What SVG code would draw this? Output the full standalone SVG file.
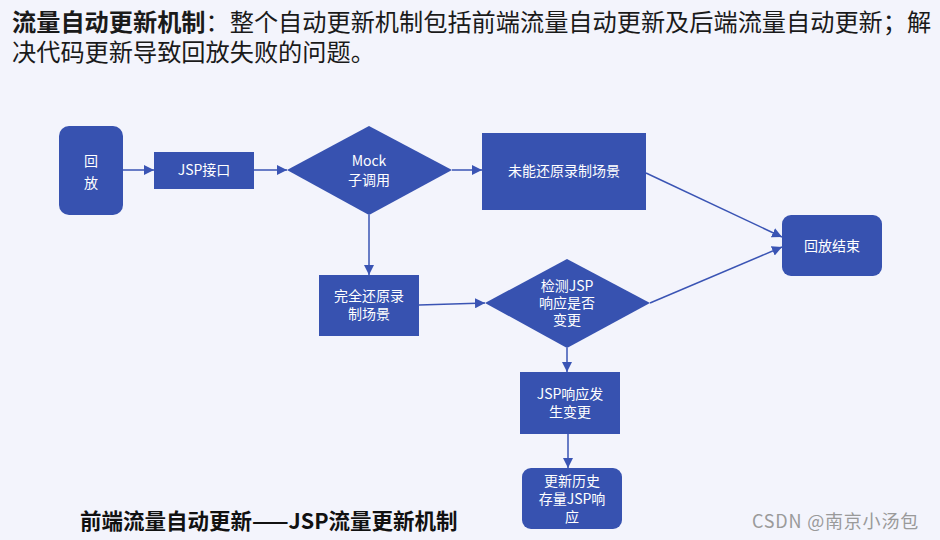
<svg xmlns="http://www.w3.org/2000/svg" width="940" height="540" viewBox="0 0 940 540">
<defs>
<marker id="ah" viewBox="0 0 10 10" refX="10" refY="5" markerWidth="10" markerHeight="10" markerUnits="userSpaceOnUse" orient="auto">
<path d="M0,0 L10,5 L0,10 z" fill="#3a54b4"/>
</marker>
<style>
.n{fill:#3752b0;}
.t{fill:#ffffff;font-family:"Noto Sans CJK SC","Noto Sans",sans-serif;font-size:14px;text-anchor:middle;}
.c{stroke:#3a54b4;stroke-width:1.5;fill:none;marker-end:url(#ah);}
.h{font-family:"Noto Sans CJK SC","Noto Sans",sans-serif;fill:#1a1a1a;}
</style>
</defs>
<rect width="940" height="540" fill="#f3f4fc"/>
<text class="h" x="12" y="31" font-size="24.2"><tspan font-weight="bold">流量自动更新机制</tspan>：整个自动更新机制包括前端流量自动更新及后端流量自动更新；解</text>
<text class="h" x="12" y="61" font-size="24.2">决代码更新导致回放失败的问题。</text>
<g id="connectors">
<line class="c" x1="123" y1="170" x2="154" y2="170"/>
<line class="c" x1="254" y1="170" x2="287" y2="170"/>
<line class="c" x1="452" y1="170" x2="482" y2="170"/>
<line class="c" x1="369" y1="215" x2="369" y2="275"/>
<line class="c" x1="419" y1="305" x2="485" y2="303"/>
<line class="c" x1="646" y1="173" x2="782" y2="237"/>
<line class="c" x1="650" y1="303" x2="782" y2="247"/>
<line class="c" x1="567" y1="348" x2="567" y2="372"/>
<line class="c" x1="568" y1="434" x2="568" y2="468"/>
</g>
<g id="n-replay"><rect class="n" x="59" y="126" width="64" height="89" rx="10"/><text class="t" x="91" y="166" font-size="16">回</text><text class="t" x="91" y="188" font-size="16">放</text></g>
<g id="n-jsp"><rect class="n" x="154" y="152" width="100" height="37"/><text class="t" x="204" y="175">JSP接口</text></g>
<g id="n-mock"><polygon class="n" points="369,126 452,170 369,215 287,170"/><text class="t" x="369" y="166">Mock</text><text class="t" x="369" y="185">子调用</text></g>
<g id="n-fail"><rect class="n" x="482" y="133" width="164" height="77"/><text class="t" x="564" y="176">未能还原录制场景</text></g>
<g id="n-end"><rect class="n" x="782" y="215" width="100" height="61" rx="9"/><text class="t" x="832" y="251">回放结束</text></g>
<g id="n-full"><rect class="n" x="319" y="275" width="100" height="61"/><text class="t" x="369" y="301">完全还原录</text><text class="t" x="369" y="319">制场景</text></g>
<g id="n-check"><polygon class="n" points="567,259 650,303 567,348 485,303"/><text class="t" x="567" y="291" font-size="13.5">检测JSP</text><text class="t" x="567" y="308" font-size="13.5">响应是否</text><text class="t" x="567" y="325" font-size="13.5">变更</text></g>
<g id="n-changed"><rect class="n" x="520" y="372" width="100" height="62"/><text class="t" x="570" y="399">JSP响应发</text><text class="t" x="570" y="417">生变更</text></g>
<g id="n-update"><rect class="n" x="522" y="468" width="100" height="61" rx="9"/><text class="t" x="572" y="486">更新历史</text><text class="t" x="572" y="504">存量JSP响</text><text class="t" x="572" y="522">应</text></g>
<text x="80" y="529" font-family="'Noto Sans CJK SC','Noto Sans',sans-serif" font-size="21.5" font-weight="bold" fill="#111111">前端流量自动更新——JSP流量更新机制</text>
<text x="752" y="528" font-family="'Noto Sans CJK SC','Noto Sans',sans-serif" font-size="18" letter-spacing="0.8" fill="#9a9a9a">CSDN @南京小汤包</text>
</svg>
